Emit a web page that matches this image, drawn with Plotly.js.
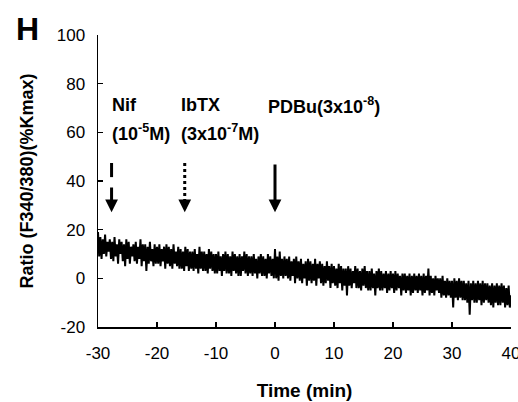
<!DOCTYPE html>
<html>
<head>
<meta charset="utf-8">
<script src="https://cdn.plot.ly/plotly-3.0.1.min.js"></script>
<style>html,body{margin:0;padding:0;background:#fff;}#chart{width:518px;height:402px;}</style>
</head>
<body>
<div id="chart"></div>
<script>
// Recording: sampled every 0.2 min starting at -30 min
const startTime = -30;
const sampleInterval = 0.2;
const ratioValues = [
  19, 9, 17, 8, 16, 10, 18, 9, 15, 11,
  16, 8, 15, 7, 17, 9, 14, 6, 16, 10,
  15, 7, 14, 5, 16, 8, 15, 6, 13, 9,
  14, 7, 15, 6, 13, 8, 16, 5, 14, 7,
  14, 3, 13, 6, 15, 7, 12, 5, 14, 6,
  13, 6, 14, 5, 12, 7, 13, 4, 14, 6,
  13, 5, 12, 4, 14, 6, 11, 5, 13, 4,
  12, 4, 11, 3, 13, 5, 12, 3, 11, 4,
  11, 3, 12, 4, 10, 2, 13, 4, 11, 3,
  11, 3, 10, 2, 12, 4, 11, 3, 10, 2,
  10, 2, 11, 3, 9, 1, 10, 3, 11, 2,
  10, 2, 9, 1, 11, 3, 10, 2, 9, 1,
  10, 1, 9, 3, 11, 2, 10, 1, 9, 2,
  9, 1, 10, 2, 8, 0, 9, 2, 10, 1,
  9, 1, 8, 0, 10, 2, 9, 1, 8, 0,
  12, 0, 9, -1, 11, 1, 8, 0, 9, 1,
  8, 0, 9, -1, 7, 1, 8, -2, 9, 0,
  7, -1, 8, -2, 6, 0, 7, -3, 8, -1,
  7, -2, 6, -1, 8, -3, 6, 0, 7, -2,
  6, -3, 5, -2, 7, -1, 5, -4, 6, -2,
  5, -3, 4, -4, 6, -2, 5, -5, 4, -3,
  4, -7, 5, -3, 4, -4, 3, -2, 5, -4,
  4, -4, 3, -5, 4, -3, 5, -4, 3, -5,
  3, -5, 4, -4, 2, -7, 3, -4, 4, -5,
  3, -5, 2, -4, 3, -6, 2, -5, 3, -4,
  2, -6, 3, -5, 2, -4, 1, -7, 2, -5,
  2, -6, 1, -5, 2, -7, 1, -6, 2, -5,
  1, -6, 2, -5, 1, -7, 2, -6, 1, -5,
  4, -7, 1, -6, 0, -7, 1, -5, 0, -6,
  0, -8, 1, -7, -1, -8, 0, -7, -1, -8,
  -1, -12, 0, -8, -1, -9, 0, -8, -1, -9,
  -1, -9, -2, -10, -1, -15, -2, -9, -1, -10,
  -2, -10, -1, -9, -2, -11, -1, -10, -2, -9,
  -2, -10, -3, -11, -2, -12, -3, -10, -2, -11,
  -3, -11, -2, -10, -3, -12, -4, -11, -3, -12,
  -7
];
const timeValues = ratioValues.map((_, i) => +(startTime + i * sampleInterval).toFixed(2));

const xTicks = [-30, -20, -10, 0, 10, 20, 30, 40];
const yTicks = [-20, 0, 20, 40, 60, 80, 100];

// Drug additions
const eventTimes = [-27.7, -15.3, 0];
const eventNames = ["Nif", "IbTX", "PDBu(3x10<sup>-8</sup>)"];
const eventDoses = ["(10<sup>-5</sup>M)", "(3x10<sup>-7</sup>M)", ""];

const F = "Liberation Sans, Arial, sans-serif";
const arrowTop = 47.4, arrowTip = 27.2;

const shapes = [
  {type:'line', xref:'x', yref:'y', x0:eventTimes[0], x1:eventTimes[0], y0:arrowTop, y1:41.6, line:{color:'#000', width:3}},
  {type:'line', xref:'x', yref:'y', x0:eventTimes[1], x1:eventTimes[1], y0:arrowTop, y1:31.5, line:{color:'#000', width:3, dash:'dot'}}
];

const annotations = [
  {text:'<b>H</b>', xref:'paper', yref:'paper', x:-0.17, y:1.02, xanchor:'center', yanchor:'middle', showarrow:false, font:{family:F, size:32, color:'#000'}},
  {x:eventTimes[0], y:arrowTip, ax:eventTimes[0], ay:37.9, axref:'x', ayref:'y', xref:'x', yref:'y', text:'', showarrow:true, arrowhead:2, arrowsize:0.85, arrowwidth:3, arrowcolor:'#000'},
  {x:eventTimes[1], y:arrowTip, ax:eventTimes[1], ay:32.5, axref:'x', ayref:'y', xref:'x', yref:'y', text:'', showarrow:true, arrowhead:2, arrowsize:0.85, arrowwidth:3, arrowcolor:'#000'},
  {x:eventTimes[2], y:arrowTip, ax:eventTimes[2], ay:arrowTop, axref:'x', ayref:'y', xref:'x', yref:'y', text:'', showarrow:true, arrowhead:2, arrowsize:0.85, arrowwidth:3, arrowcolor:'#000'}
];
const labelX = [-27.9, -16.2, -1.6];
for (let i = 0; i < eventNames.length; i++) {
  annotations.push({x:labelX[i], y:71.2, xref:'x', yref:'y', xanchor:'left', yanchor:'middle', showarrow:false, text:'<b>'+eventNames[i]+'</b>', font:{family:F, size:18, color:'#000'}});
  if (eventDoses[i]) annotations.push({x:labelX[i], y:60.1, xref:'x', yref:'y', xanchor:'left', yanchor:'middle', showarrow:false, text:'<b>'+eventDoses[i]+'</b>', font:{family:F, size:18, color:'#000'}});
}

const trace = {x: timeValues, y: ratioValues, type:'scatter', mode:'lines', line:{color:'#000', width:2}, hoverinfo:'skip', cliponaxis:true};

const layout = {
  width:518, height:402,
  margin:{l:98, r:7, t:35, b:75},
  paper_bgcolor:'#fff', plot_bgcolor:'#fff',
  showlegend:false,
  font:{family:F, color:'#000'},
  xaxis:{range:[-30,40], tickvals:xTicks, ticktext:xTicks.map(String), ticks:'inside', ticklen:5, tickwidth:1.5, tickcolor:'#000',
         showline:true, linecolor:'#000', linewidth:1.5, showgrid:false, zeroline:false, tickfont:{family:F, size:17, color:'#000'},
         ticklabelstandoff:10, ticklabeloverflow:'allow',
         title:{text:'<b>Time (min)</b>', font:{family:F, size:19, color:'#000'}, standoff:22}},
  yaxis:{range:[-20,100], tickvals:yTicks, ticktext:yTicks.map(String), ticks:'inside', ticklen:5, tickwidth:1.5, tickcolor:'#000',
         showline:true, linecolor:'#000', linewidth:1.5, showgrid:false, zeroline:false, tickfont:{family:F, size:17, color:'#000'},
         ticklabelstandoff:8,
         title:{text:'<b>Ratio (F340/380)(%Kmax)</b>', font:{family:F, size:18, color:'#000'}, standoff:18}},
  shapes: shapes,
  annotations: annotations
};
Plotly.newPlot('chart', [trace], layout, {displayModeBar:false, staticPlot:true});
</script>
</body>
</html>
